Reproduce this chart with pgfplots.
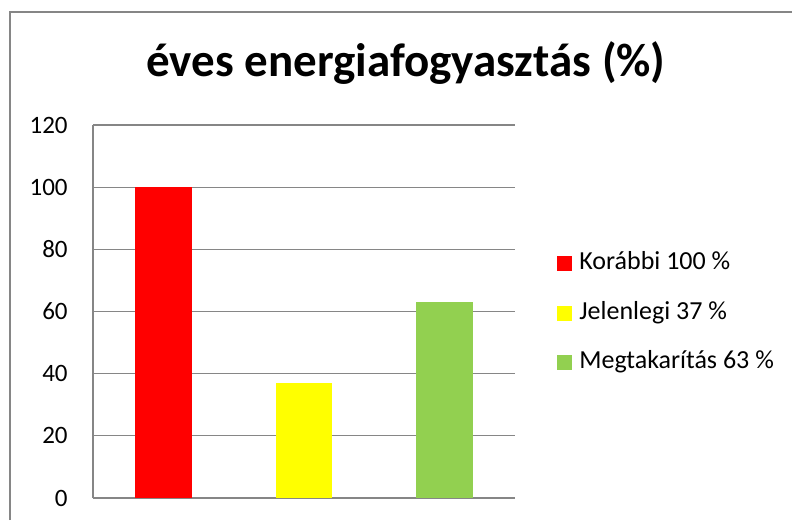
\documentclass[border=0pt]{standalone}
\usepackage{pgfplots}
\pgfplotsset{compat=1.18}
\usepackage{fontspec}
\setmainfont{Carlito}
\definecolor{gridgray}{HTML}{868686}
\definecolor{barred}{HTML}{FF0000}
\definecolor{baryellow}{HTML}{FFFF00}
\definecolor{bargreen}{HTML}{92D050}
\begin{document}
\begin{tikzpicture}
\useasboundingbox (0pt,0pt) rectangle (396pt,260pt);
\fill[white] (0pt,0pt) rectangle (396pt,260pt);
\draw[gridgray, line width=0.6pt] (5pt,0pt) -- (5pt,254pt) -- (396pt,254pt);
\node[anchor=base, font=\fontsize{23.5}{28}\selectfont\bfseries] at (203pt,221.5pt) {éves energiafogyasztás (\%)};
\begin{axis}[
  at={(46.5pt,11pt)}, anchor=south west,
  scale only axis, width=211pt, height=186.5pt,
  xmin=-0.5, xmax=2.5, ymin=0, ymax=120,
  ytick={0,20,...,120}, xtick=\empty,
  axis x line*=bottom, axis y line*=left,
  axis line style={gridgray, line width=0.6pt, -},
  ymajorgrids, grid style={gridgray, line width=0.6pt},
  major tick length=0pt,
  /pgf/number format/assume math mode=true,
  yticklabel style={font=\fontsize{12.5}{15}\selectfont, inner sep=0pt, xshift=-12.5pt},
  legend style={at={(axis description cs:1.0995,0.495)}, anchor=west, draw=none, fill=none,
    inner sep=0pt, row sep=12.75pt, column sep=3.5pt,
    font=\fontsize{13}{15.6}\selectfont,
    nodes={inner sep=0pt, text height=9pt, text depth=3pt}},
  legend cell align=left,
  legend image code/.code={\fill[#1] (0pt,-3.75pt) rectangle (7.5pt,3.75pt);},
]
\addplot[ybar, bar width=0.404, fill=barred, draw=none] coordinates {(0,100)};
\addlegendentry{Korábbi 100 \%}
\addplot[ybar, bar width=0.404, fill=baryellow, draw=none] coordinates {(1,37)};
\addlegendentry{Jelenlegi 37 \%}
\addplot[ybar, bar width=0.404, fill=bargreen, draw=none] coordinates {(2,63)};
\addlegendentry{Megtakarítás 63 \%}
\end{axis}
\end{tikzpicture}
\end{document}
